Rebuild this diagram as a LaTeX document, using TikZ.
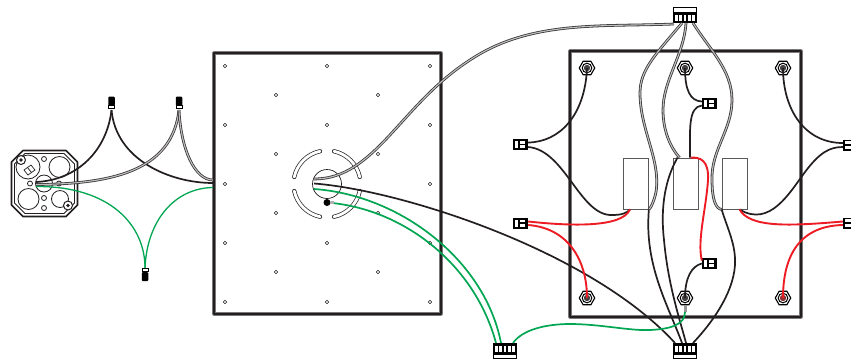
\documentclass[tikz,border=0pt]{standalone}
\usetikzlibrary{calc,shapes.geometric}
\definecolor{wk}{HTML}{231F20}
\definecolor{wg}{HTML}{00A651}
\definecolor{wr}{HTML}{ED1C24}
\tikzset{
  panel/.style={draw=wk!60!white,line width=3.2pt,fill=white,line join=round},
  panelcore/.style={draw=wk,line width=1.8pt,line join=round},
  hole/.style={draw=wk,line width=.6pt,fill=white,circle,inner sep=0pt,minimum size=3.6pt},
  blackwire/.style={draw=wk,line width=1.7pt},
  greenwire/.style={draw=wg,line width=1.7pt},
  redwire/.style={draw=wr,line width=1.9pt},
  greywire/.style={draw=wk!90!white,line width=.8pt,double=white!75!black,double distance=1.1pt},
  slotline/.style={draw=wk,line width=.7pt,double=white,double distance=2.8pt,line cap=round},
  relaybox/.style={draw=wk!75!white,line width=.8pt,fill=white,rectangle,inner sep=0pt,minimum width=25pt,minimum height=51pt},
  sideconn/.style={fill=black,rectangle,inner sep=0pt,minimum width=15pt,minimum height=11pt},
  blockconn/.style={draw=black,line width=1pt,fill=white,rectangle,inner sep=0pt,minimum width=23pt,minimum height=15pt},
  endcap/.style={fill=black,rectangle,rounded corners=1pt,inner sep=0pt,minimum width=6.5pt,minimum height=9pt},
  standoff/.style={regular polygon,regular polygon sides=6,draw=black,line width=1.1pt,fill=white,inner sep=0pt,minimum size=15.5pt},
  boxline/.style={draw=wk,line width=.8pt,fill=white},
}
\newcommand{\sidebar}[1]{%
  \fill[white] ($(#1.center)+(-6,-3.5)$) rectangle ($(#1.center)+(-3,3.5)$);
  \fill[white] ($(#1.center)+(-1,-3.5)$) rectangle ($(#1.center)+(4.5,-.8)$);
  \fill[white] ($(#1.center)+(-1,.8)$) rectangle ($(#1.center)+(4.5,3.5)$);}
\newcommand{\pinsTop}[1]{%
  \fill[black] ($(#1.center)+(-11.5,-3.5)$) rectangle ($(#1.center)+(11.5,7.5)$);
  \foreach \q in {-8.4,-4.2,0,4.2,8.4}{\fill[white] ($(#1.center)+(\q-1.4,-.5)$) rectangle ($(#1.center)+(\q+1.4,5.5)$);}}
\newcommand{\pinsBottom}[1]{%
  \fill[black] ($(#1.center)+(-11.5,-7.5)$) rectangle ($(#1.center)+(11.5,3.5)$);
  \foreach \q in {-8.4,-4.2,0,4.2,8.4}{\fill[white] ($(#1.center)+(\q-1.4,-5.5)$) rectangle ($(#1.center)+(\q+1.4,.5)$);}}
\begin{document}
\begin{tikzpicture}[x=1pt,y=-1pt]
\useasboundingbox (0,0) rectangle (851,360);
% ---- plates
\draw[panel] (214,53) rectangle (441,314);
\draw[panel] (570,51) rectangle (801,317);
\draw[panelcore] (214,53) rectangle (441,314);
\draw[panelcore] (570,51) rectangle (801,317);
\foreach \q/\x/\y in {a/225/66,b/327/66,c/430/66,d/225/125,e/327/125,f/430/125,g/225/184,i/430/184,j/225/243,k/327/243,l/430/243,m/225/302,n/327/302,o/430/302,p/276/95,q/378/95,r/276/154,s/378/154,t/276/213,u/378/213,v/276/272,w/378/272}
  \node[hole] (h\q) at (\x,\y) {};
% ---- centre opening
\coordinate (cc) at (327,184);
\node[draw=wk,line width=.7pt,circle,inner sep=0pt,minimum size=29pt] (opening) at (cc) {};
\foreach \a in {0,90,180,270}{
  \draw[slotline] ($(cc)+(\a+12:33.5)$) arc[start angle=\a+12,end angle=\a+78,radius=33.5];
}
% ---- relay boxes
\node[relaybox] (rA) at (636,183.5) {};
\node[relaybox] (rB) at (685.5,183.5) {};
\node[relaybox] (rC) at (734.5,183.5) {};
% ---- standoffs
\foreach \q/\x/\y/\c in {tl/587/68/wk,tm/685/68/wk,tr/783/68/wk,bl/587/298/wk,bm/685/298/wk,br/783/298/wr!50!black}{
  \node[standoff] (so\q) at (\x,\y) {};
  \draw[black,line width=1pt,fill=white] (so\q.center) circle (4.8);
  \fill[\c!85!white] (so\q.center) circle (3.2);
}
% ---- connectors
\node[blockconn] (top) at (685,15) {}; \pinsTop{top}
\node[blockconn] (botR) at (685,351) {}; \pinsBottom{botR}
\node[blockconn] (botL) at (505,351) {}; \pinsBottom{botL}
\node[sideconn] (sL1) at (520.5,144.5) {}; \sidebar{sL1}
\node[sideconn] (sL2) at (520.5,223) {}; \sidebar{sL2}
\node[sideconn] (sM1) at (709.5,103.5) {}; \sidebar{sM1}
\node[sideconn] (sM2) at (709.5,263.5) {}; \sidebar{sM2}
\node[sideconn,minimum width=9pt] (sR1) at (847.5,145) {};
\node[sideconn,minimum width=9pt] (sR2) at (847.5,223) {};
\foreach \q in {sR1,sR2}{
  \fill[white] ($(\q.center)+(-2.5,-3.7)$) rectangle ($(\q.center)+(3.5,-.8)$);
  \fill[white] ($(\q.center)+(-2.5,.8)$) rectangle ($(\q.center)+(3.5,3.7)$);}
\node[endcap] (cap1) at (111.5,101) {};
\node[endcap] (cap2) at (179,101) {};
\node[endcap] (cap3) at (145,276.5) {};
\coordinate (cap1e) at (111.5,110);
\coordinate (cap2e) at (179,110);
\coordinate (cap3e) at (145,268);
\draw[black,line width=.8pt,fill=white] (108.5,105.5) rectangle (114.5,108.5);
\draw[black,line width=.8pt,fill=white] (176,105.5) rectangle (182,108.5);
\draw[black,line width=.8pt,fill=white] (142,268.5) rectangle (148,271.5);
% ---- octagonal box
\coordinate (bc) at (44.5,183.5);
\draw[boxline,line width=1.7pt,line join=round] (23,150.5)--(66,150.5)--(77.5,162)--(77.5,205)--(66,216.5)--(23,216.5)--(11.5,205)--(11.5,162)--cycle;
\draw[boxline] (25,153.5)--(64,153.5)--(74.5,164)--(74.5,203)--(64,213.5)--(25,213.5)--(14.5,203)--(14.5,164)--cycle;
\node[boxline,circle,inner sep=0pt,minimum size=24pt] (k1) at (28,167) {};
\node[boxline,circle,inner sep=0pt,minimum size=21pt] (k2) at (59.5,167) {};
\node[boxline,circle,inner sep=0pt,minimum size=21pt] (k3) at (28.5,199) {};
\node[boxline,circle,inner sep=0pt,minimum size=17pt] (k4) at (60,199) {};
\node[boxline,circle,inner sep=0pt,minimum size=17pt] (k5) at (44,183.5) {};
\node[boxline,circle,inner sep=0pt,minimum size=5pt] (s1) at (44,159) {};
\node[boxline,circle,inner sep=0pt,minimum size=5pt] (s2) at (30,183.5) {};
\node[boxline,circle,inner sep=0pt,minimum size=5pt] (s3) at (59,183.5) {};
\node[boxline,circle,inner sep=0pt,minimum size=5pt] (s4) at (44,198) {};
\node[boxline,circle,inner sep=0pt,minimum size=5pt] (s5) at (44,208) {};
\node[boxline,circle,line width=1pt,inner sep=0pt,minimum size=9pt] (lug1) at (21,160) {};
\node[boxline,circle,line width=1pt,inner sep=0pt,minimum size=9pt] (lug2) at (68,205.5) {};
\fill[wk] (lug1.center) circle (1.8);
\fill[wk] (lug2.center) circle (1.8);
\draw[wk,line width=.7pt] (24,170) -- (31,165) -- (35,170) -- (28,175) -- cycle;
\draw[wk,line width=.7pt] (27.5,167.5) -- (31.5,172.5);
% ---- wire anchors
\coordinate (bb1) at (36,182);
\coordinate (bb2) at (36,184.5);
\coordinate (bb3) at (36,186.5);
\coordinate (pL1) at (213,183);
\coordinate (pL2) at (213,180);
\coordinate (pL3) at (213,187.5);
\coordinate (oGrey) at (314,179);
\coordinate (oBlack) at (314,183.5);
\coordinate (oGreen) at (314,189);
\node[fill=black,circle,inner sep=0pt,minimum size=7pt] (dot) at (327,202.5) {};
% ---- left wires
\draw[blackwire] (bb1) .. controls (78,180) and (107,150) .. (cap1e);
\draw[blackwire] (cap1e) .. controls (116,160) and (170,183) .. (pL1);
\draw[greywire] (bb2) .. controls (110,184) and (172,172) .. (cap2e);
\draw[greywire] (cap2e) .. controls (181,150) and (195,180) .. (pL2);
\draw[greenwire,line width=1.3pt] (bb3) .. controls (110,186) and (145,225) .. (cap3e);
\draw[greenwire,line width=1.3pt] (cap3e) .. controls (147,220) and (175,188) .. (pL3);
% ---- plate to connectors
\draw[greywire] (oGrey) .. controls (375,179) and (400,105) .. (470,60) .. controls (530,20) and (600,27) .. ([xshift=1pt,yshift=-1pt]top.south west);
\draw[blackwire] (oBlack) .. controls (400,190) and (590,250) .. ([xshift=-10pt]botR.north);
\draw[greenwire] (oGreen) .. controls (400,195) and (485,260) .. ([xshift=-4pt]botL.north);
\draw[greenwire] (dot) .. controls (405,210) and (475,265) .. ([xshift=-9pt]botL.north);
\fill[white!70!black] ($(dot)+(3,-1.2)$) rectangle ($(dot)+(7,1.2)$);
% ---- top connector to relays
\draw[greywire] ([xshift=-3pt]top.south) .. controls (655,55) and (640,70) .. (640,93) .. controls (640,130) and (661,160) .. (656,192) .. controls (654,202) and (650,209) .. (rA.south east);
\draw[greywire] ([xshift=1pt]top.south) .. controls (684,55) and (663,80) .. (663,110) .. controls (663,130) and (670,147) .. ([xshift=-6pt]rB.north);
\draw[greywire] ([xshift=8pt]top.south) .. controls (710,50) and (732,70) .. (732,100) .. controls (732,130) and (711,150) .. (712,180) .. controls (712,200) and (716,209) .. (rC.south west);
% ---- right-hand wires
\draw[blackwire] (sotm.center) .. controls (685,90) and (690,101) .. ([yshift=2pt]sM1.west);
\draw[blackwire] ([xshift=4.5pt]rB.north) .. controls (690,130) and (688,107) .. ([yshift=-2pt]sM1.west);
\draw[blackwire] ([xshift=-8pt]rB.north) .. controls (666,178) and (660,205) .. (664,240) .. controls (668,285) and (680,320) .. ([xshift=1pt]botR.north);
\draw[blackwire] (rA.south east) .. controls (644,265) and (668,305) .. ([xshift=-3pt]botR.north);
\draw[blackwire] (rC.south west) .. controls (728,230) and (736,245) .. (735,265) .. controls (733,295) and (710,325) .. ([xshift=8pt]botR.north);
\draw[blackwire] (sotl.center) .. controls (585,115) and (560,142) .. ([yshift=2pt]sL1.east);
\draw[blackwire] ([yshift=-2.5pt]sL1.east) .. controls (565,150) and (580,216) .. (612,215) .. controls (622,215) and (627,213) .. ([xshift=-6pt]rA.south);
\draw[blackwire] (sotr.center) .. controls (783,110) and (805,143) .. ([yshift=2pt]sR1.west);
\draw[blackwire] ([xshift=5pt]rC.south) .. controls (770,228) and (790,192) .. (805,172) .. controls (820,152) and (830,147) .. ([yshift=-2pt]sR1.west);
\draw[blackwire] (sobm.center) .. controls (685,277) and (692,266) .. ([yshift=0pt]sM2.west);
% ---- red
\draw[redwire] ([xshift=-6pt]rA.south) .. controls (622,228) and (570,226) .. ([yshift=1.5pt]sL2.east);
\draw[redwire] ([yshift=-2pt]sL2.east) .. controls (568,228) and (587,260) .. (sobl.center);
\draw[redwire] ([xshift=5pt]rB.north) .. controls (700,157) and (709,160) .. (708,180) .. controls (706,210) and (697,240) .. ([yshift=3pt]sM2.west);
\draw[redwire] ([xshift=5pt]rC.south) .. controls (750,228) and (790,226) .. ([yshift=1.5pt]sR2.west);
\draw[redwire] ([yshift=-2pt]sR2.west) .. controls (800,226) and (783,255) .. (sobr.center);
% ---- green
\fill[white!60!black] (683.5,305) rectangle (686.5,312);
\coordinate (gTurn) at (570,324);
\coordinate (gTurnB) at (650,330);
\draw[greenwire] ([xshift=8pt]botL.north) .. controls (522,330) and (545,324) .. (gTurn) .. controls (600,324) and (630,331) .. (gTurnB) .. controls (670,329) and (685,325) .. (685,312);
\end{tikzpicture}
\end{document}
